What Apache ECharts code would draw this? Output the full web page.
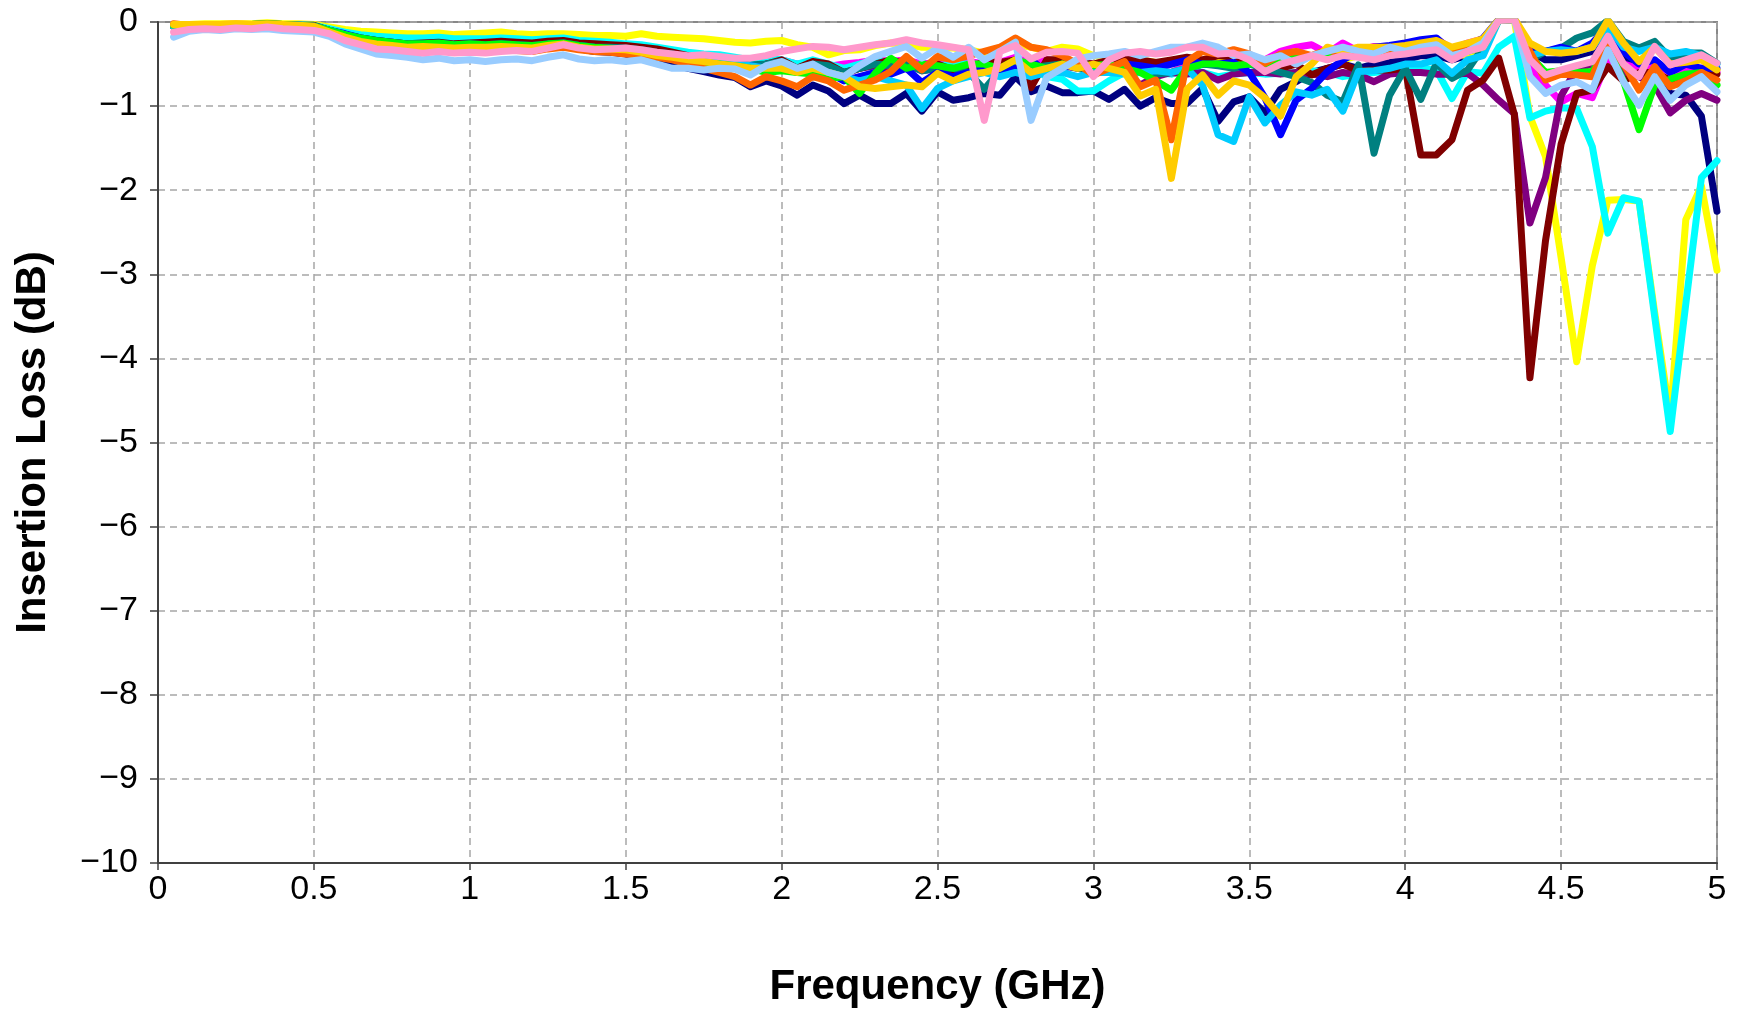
<!DOCTYPE html>
<html>
<head>
<meta charset="utf-8">
<title>Insertion Loss</title>
<script src="https://cdn.jsdelivr.net/npm/echarts@6/dist/echarts.min.js"></script>
<style>
  html, body { margin: 0; padding: 0; background: #fff; }
  #chart { width: 1745px; height: 1013px; }
</style>
</head>
<body>
<div id="chart"></div>
<script>
// frequency points (GHz)
var freq = [0.05,0.1,0.15,0.2,0.25,0.3,0.35,0.4,0.45,0.5,
  0.55,0.6,0.65,0.7,0.75,0.8,0.85,0.9,0.95,1.0,
  1.05,1.1,1.15,1.2,1.25,1.3,1.35,1.4,1.45,1.5,
  1.55,1.6,1.65,1.7,1.75,1.8,1.85,1.9,1.95,2.0,
  2.05,2.1,2.15,2.2,2.25,2.3,2.35,2.4,2.45,2.5,
  2.55,2.6,2.65,2.7,2.75,2.8,2.85,2.9,2.95,3.0,
  3.05,3.1,3.15,3.2,3.25,3.3,3.35,3.4,3.45,3.5,
  3.55,3.6,3.65,3.7,3.75,3.8,3.85,3.9,3.95,4.0,
  4.05,4.1,4.15,4.2,4.25,4.3,4.35,4.4,4.45,4.5,
  4.55,4.6,4.65,4.7,4.75,4.8,4.85,4.9,4.95,5.0];

// insertion loss (dB), one array per trace
var lossNavy = [-0.05,-0.05,-0.04,-0.04,-0.03,-0.04,-0.03,-0.04,-0.05,-0.06,
  -0.1,-0.15,-0.2,-0.23,-0.26,-0.27,-0.28,-0.27,-0.29,-0.28,
  -0.3,-0.29,-0.3,-0.32,-0.3,-0.28,-0.32,-0.35,-0.36,-0.38,
  -0.42,-0.47,-0.5,-0.55,-0.59,-0.63,-0.66,-0.77,-0.7,-0.76,
  -0.87,-0.75,-0.82,-0.97,-0.87,-0.97,-0.97,-0.85,-1.06,-0.83,
  -0.93,-0.9,-0.85,-0.87,-0.65,-0.83,-0.76,-0.84,-0.84,-0.82,
  -0.92,-0.8,-1.0,-0.9,-0.97,-0.97,-0.79,-1.18,-0.95,-0.89,
  -1.08,-0.8,-0.71,-0.6,-0.55,-0.5,-0.55,-0.5,-0.48,-0.45,
  -0.4,-0.4,-0.45,-0.4,-0.3,0.02,0.03,-0.35,-0.45,-0.45,
  -0.4,-0.35,-0.2,-0.45,-0.5,-0.6,-0.85,-0.87,-1.12,-2.25];

var lossMagenta = [-0.04,-0.04,-0.03,-0.03,-0.02,-0.03,-0.02,-0.03,-0.04,-0.05,
  -0.09,-0.14,-0.18,-0.21,-0.23,-0.25,-0.25,-0.24,-0.26,-0.25,
  -0.26,-0.25,-0.26,-0.27,-0.25,-0.24,-0.27,-0.28,-0.29,-0.3,
  -0.32,-0.35,-0.37,-0.4,-0.42,-0.44,-0.46,-0.5,-0.47,-0.45,
  -0.5,-0.48,-0.53,-0.5,-0.48,-0.45,-0.47,-0.45,-0.5,-0.48,
  -0.5,-0.47,-0.5,-0.48,-0.42,-0.5,-0.45,-0.47,-0.48,-0.5,
  -0.5,-0.48,-0.55,-0.58,-0.6,-0.5,-0.48,-0.45,-0.47,-0.45,
  -0.45,-0.35,-0.3,-0.27,-0.37,-0.25,-0.35,-0.29,-0.3,-0.28,
  -0.22,-0.2,-0.32,-0.25,-0.2,0.02,0.03,-0.55,-0.75,-0.95,
  -0.85,-0.9,-0.45,-0.5,-0.55,-0.5,-0.6,-0.55,-0.55,-0.6];

var lossYellow = [-0.03,-0.03,-0.02,-0.02,-0.02,-0.02,-0.01,-0.02,-0.02,-0.03,
  -0.06,-0.09,-0.11,-0.12,-0.13,-0.14,-0.14,-0.13,-0.15,-0.14,
  -0.13,-0.12,-0.14,-0.15,-0.14,-0.14,-0.15,-0.16,-0.16,-0.17,
  -0.14,-0.17,-0.18,-0.19,-0.2,-0.22,-0.24,-0.25,-0.23,-0.22,
  -0.27,-0.3,-0.39,-0.34,-0.33,-0.28,-0.25,-0.26,-0.3,-0.3,
  -0.31,-0.33,-0.37,-0.33,-0.26,-0.3,-0.35,-0.3,-0.32,-0.4,
  -0.42,-0.4,-0.45,-0.48,-0.5,-0.45,-0.5,-0.42,-0.48,-0.5,
  -0.45,-0.4,-0.35,-0.42,-0.35,-0.45,-0.4,-0.35,-0.38,-0.33,
  -0.33,-0.3,-0.38,-0.4,-0.3,0.02,0.03,-1.12,-1.6,-2.8,
  -4.04,-2.9,-2.12,-2.11,-2.13,-3.45,-4.7,-2.35,-1.95,-2.95];

var lossCyan = [-0.05,-0.04,-0.03,-0.04,-0.03,-0.03,-0.02,-0.03,-0.03,-0.04,
  -0.08,-0.12,-0.15,-0.17,-0.18,-0.19,-0.19,-0.18,-0.2,-0.2,
  -0.2,-0.19,-0.2,-0.21,-0.2,-0.19,-0.22,-0.23,-0.24,-0.26,
  -0.27,-0.3,-0.33,-0.36,-0.38,-0.39,-0.42,-0.45,-0.43,-0.45,
  -0.5,-0.45,-0.5,-0.55,-0.5,-0.45,-0.5,-0.48,-0.55,-0.52,
  -0.5,-0.5,-0.55,-0.6,-0.5,-0.55,-0.65,-0.68,-0.82,-0.82,
  -0.7,-0.6,-0.55,-0.6,-0.62,-0.55,-0.6,-0.65,-0.62,-0.6,
  -0.62,-0.61,-0.6,-0.58,-0.6,-0.65,-0.62,-0.6,-0.58,-0.55,
  -0.55,-0.57,-0.91,-0.59,-0.61,-0.3,-0.17,-1.14,-1.06,-1.02,
  -1.03,-1.48,-2.51,-2.09,-2.13,-3.5,-4.87,-3.35,-1.85,-1.65];

var lossPurple = [-0.05,-0.04,-0.04,-0.04,-0.03,-0.04,-0.03,-0.04,-0.05,-0.05,
  -0.1,-0.15,-0.2,-0.23,-0.25,-0.27,-0.27,-0.26,-0.28,-0.27,
  -0.28,-0.27,-0.28,-0.3,-0.28,-0.26,-0.29,-0.31,-0.32,-0.33,
  -0.35,-0.38,-0.4,-0.43,-0.46,-0.48,-0.5,-0.55,-0.5,-0.5,
  -0.55,-0.52,-0.58,-0.62,-0.55,-0.52,-0.55,-0.5,-0.58,-0.55,
  -0.58,-0.55,-0.6,-0.58,-0.5,-0.55,-0.55,-0.52,-0.55,-0.58,
  -0.6,-0.58,-0.75,-0.65,-0.6,-0.62,-0.6,-0.69,-0.62,-0.6,
  -0.6,-0.62,-0.6,-0.62,-0.65,-0.6,-0.63,-0.71,-0.62,-0.6,
  -0.6,-0.62,-0.62,-0.61,-0.75,-0.93,-1.09,-2.39,-1.85,-0.88,
  -0.55,-0.5,-0.35,-0.6,-0.65,-0.75,-1.08,-0.93,-0.85,-0.93];

var lossMaroon = [-0.04,-0.04,-0.03,-0.03,-0.03,-0.03,-0.02,-0.03,-0.04,-0.04,
  -0.1,-0.15,-0.19,-0.22,-0.24,-0.26,-0.25,-0.24,-0.26,-0.25,
  -0.24,-0.23,-0.24,-0.25,-0.23,-0.22,-0.25,-0.26,-0.27,-0.28,
  -0.3,-0.32,-0.36,-0.4,-0.42,-0.45,-0.5,-0.55,-0.5,-0.45,
  -0.55,-0.47,-0.5,-0.6,-0.55,-0.5,-0.45,-0.5,-0.55,-0.5,
  -0.57,-0.55,-0.47,-0.48,-0.45,-0.78,-0.45,-0.45,-0.48,-0.5,
  -0.45,-0.42,-0.45,-0.48,-0.45,-0.42,-0.45,-0.4,-0.42,-0.45,
  -0.5,-0.55,-0.5,-0.63,-0.55,-0.5,-0.58,-0.57,-0.57,-0.55,
  -1.58,-1.58,-1.4,-0.81,-0.69,-0.43,-1.1,-4.23,-2.6,-1.45,
  -0.85,-0.81,-0.53,-0.7,-0.6,-0.6,-0.69,-0.65,-0.6,-0.62];

var lossTeal = [-0.05,-0.04,-0.04,-0.04,-0.03,-0.04,-0.03,-0.04,-0.05,-0.05,
  -0.1,-0.15,-0.2,-0.23,-0.25,-0.27,-0.27,-0.26,-0.28,-0.27,
  -0.28,-0.27,-0.28,-0.29,-0.27,-0.25,-0.28,-0.3,-0.3,-0.31,
  -0.33,-0.36,-0.38,-0.42,-0.45,-0.45,-0.48,-0.51,-0.5,-0.47,
  -0.55,-0.5,-0.52,-0.6,-0.55,-0.5,-0.52,-0.5,-0.58,-0.55,
  -0.55,-0.6,-0.8,-0.58,-0.5,-0.55,-0.52,-0.5,-0.55,-0.58,
  -0.58,-0.55,-0.6,-0.62,-0.6,-0.55,-0.5,-0.52,-0.55,-0.5,
  -0.55,-0.6,-0.65,-0.72,-0.87,-0.95,-0.51,-1.56,-0.87,-0.55,
  -0.92,-0.49,-0.67,-0.57,-0.3,0.03,0.04,-0.45,-0.35,-0.31,
  -0.19,-0.13,0.02,-0.23,-0.31,-0.23,-0.43,-0.37,-0.37,-0.49];

var lossBlue = [-0.04,-0.04,-0.04,-0.03,-0.03,-0.03,-0.03,-0.04,-0.04,-0.05,
  -0.1,-0.14,-0.19,-0.22,-0.24,-0.26,-0.26,-0.25,-0.27,-0.26,
  -0.27,-0.26,-0.27,-0.28,-0.26,-0.25,-0.28,-0.3,-0.31,-0.32,
  -0.35,-0.38,-0.4,-0.43,-0.45,-0.48,-0.5,-0.52,-0.55,-0.5,
  -0.6,-0.55,-0.6,-0.7,-0.65,-0.6,-0.62,-0.55,-0.72,-0.6,
  -0.65,-0.6,-0.55,-0.6,-0.55,-0.45,-0.6,-0.55,-0.5,-0.55,
  -0.55,-0.5,-0.52,-0.55,-0.5,-0.45,-0.5,-0.5,-0.48,-0.6,
  -0.9,-1.34,-0.93,-0.79,-0.59,-0.45,-0.35,-0.3,-0.28,-0.25,
  -0.21,-0.19,-0.35,-0.29,-0.19,0.03,0.04,-0.3,-0.35,-0.3,
  -0.35,-0.25,-0.05,-0.35,-0.5,-0.45,-0.6,-0.5,-0.55,-0.55];

var lossSkyBlue = [-0.05,-0.04,-0.04,-0.04,-0.03,-0.04,-0.03,-0.04,-0.05,-0.05,
  -0.1,-0.15,-0.2,-0.24,-0.26,-0.28,-0.28,-0.27,-0.29,-0.28,
  -0.29,-0.28,-0.29,-0.3,-0.28,-0.26,-0.29,-0.31,-0.32,-0.33,
  -0.35,-0.38,-0.4,-0.42,-0.45,-0.48,-0.5,-0.52,-0.55,-0.55,
  -0.6,-0.58,-0.6,-0.65,-0.7,-0.65,-0.7,-0.75,-1.03,-0.79,
  -0.7,-0.65,-0.6,-0.65,-0.6,-0.65,-0.6,-0.6,-0.65,-0.6,
  -0.6,-0.62,-0.6,-0.58,-0.6,-0.55,-0.75,-1.34,-1.42,-0.89,
  -1.2,-0.99,-0.83,-0.87,-0.8,-1.06,-0.59,-0.58,-0.55,-0.5,
  -0.5,-0.45,-0.61,-0.45,-0.4,0.02,0.03,-0.4,-0.35,-0.33,
  -0.35,-0.3,-0.05,-0.3,-0.35,-0.3,-0.38,-0.35,-0.4,-0.5];

var lossGreen = [-0.04,-0.04,-0.03,-0.03,-0.03,-0.03,-0.02,-0.03,-0.04,-0.05,
  -0.1,-0.15,-0.19,-0.22,-0.24,-0.26,-0.26,-0.25,-0.27,-0.26,
  -0.27,-0.26,-0.27,-0.28,-0.26,-0.25,-0.28,-0.3,-0.31,-0.32,
  -0.35,-0.38,-0.42,-0.45,-0.48,-0.5,-0.52,-0.55,-0.6,-0.58,
  -0.6,-0.62,-0.67,-0.65,-0.85,-0.61,-0.43,-0.55,-0.5,-0.52,
  -0.55,-0.5,-0.5,-0.55,-0.45,-0.5,-0.55,-0.5,-0.5,-0.52,
  -0.5,-0.55,-0.6,-0.7,-0.81,-0.55,-0.5,-0.5,-0.52,-0.5,
  -0.5,-0.45,-0.42,-0.4,-0.38,-0.4,-0.35,-0.33,-0.35,-0.3,
  -0.3,-0.28,-0.4,-0.35,-0.3,0.02,0.03,-0.4,-0.6,-0.58,
  -0.6,-0.59,-0.3,-0.7,-1.28,-0.75,-0.68,-0.62,-0.6,-0.75];

var lossOrange = [-0.02,-0.04,-0.04,-0.05,-0.04,-0.05,-0.04,-0.05,-0.06,-0.07,
  -0.14,-0.2,-0.26,-0.3,-0.32,-0.34,-0.36,-0.34,-0.35,-0.33,
  -0.34,-0.33,-0.34,-0.35,-0.32,-0.3,-0.33,-0.35,-0.36,-0.38,
  -0.4,-0.42,-0.45,-0.5,-0.55,-0.6,-0.65,-0.75,-0.65,-0.7,
  -0.77,-0.65,-0.7,-0.81,-0.75,-0.69,-0.59,-0.41,-0.57,-0.41,
  -0.45,-0.4,-0.35,-0.3,-0.19,-0.3,-0.33,-0.4,-0.5,-0.63,
  -0.55,-0.47,-0.77,-0.69,-1.4,-0.47,-0.35,-0.38,-0.33,-0.38,
  -0.49,-0.38,-0.35,-0.4,-0.33,-0.38,-0.32,-0.35,-0.35,-0.3,
  -0.3,-0.27,-0.38,-0.3,-0.25,0.02,0.03,-0.35,-0.69,-0.62,
  -0.63,-0.65,-0.21,-0.5,-0.81,-0.53,-0.77,-0.7,-0.6,-0.69];

var lossGold = [-0.03,-0.03,-0.03,-0.03,-0.02,-0.03,-0.02,-0.03,-0.04,-0.05,
  -0.12,-0.18,-0.23,-0.26,-0.28,-0.3,-0.29,-0.3,-0.31,-0.3,
  -0.3,-0.29,-0.3,-0.31,-0.28,-0.26,-0.3,-0.32,-0.32,-0.33,
  -0.36,-0.4,-0.42,-0.45,-0.47,-0.5,-0.52,-0.55,-0.55,-0.55,
  -0.6,-0.55,-0.6,-0.65,-0.77,-0.79,-0.77,-0.75,-0.77,-0.61,
  -0.7,-0.62,-0.6,-0.55,-0.45,-0.6,-0.55,-0.5,-0.55,-0.5,
  -0.55,-0.6,-0.88,-0.8,-1.86,-0.8,-0.63,-0.87,-0.7,-0.75,
  -0.9,-1.12,-0.65,-0.5,-0.3,-0.35,-0.3,-0.3,-0.3,-0.28,
  -0.25,-0.22,-0.3,-0.25,-0.2,0.03,0.04,-0.25,-0.35,-0.37,
  -0.35,-0.3,0.02,-0.25,-0.47,-0.3,-0.5,-0.48,-0.45,-0.57];

var lossLightBlue = [-0.18,-0.11,-0.09,-0.1,-0.08,-0.09,-0.08,-0.1,-0.11,-0.12,
  -0.17,-0.26,-0.32,-0.38,-0.4,-0.42,-0.45,-0.43,-0.46,-0.45,
  -0.47,-0.45,-0.44,-0.46,-0.42,-0.39,-0.44,-0.46,-0.45,-0.47,
  -0.45,-0.5,-0.55,-0.55,-0.57,-0.55,-0.56,-0.63,-0.52,-0.47,
  -0.55,-0.5,-0.6,-0.65,-0.52,-0.41,-0.35,-0.29,-0.43,-0.31,
  -0.42,-0.3,-0.45,-0.35,-0.24,-1.17,-0.66,-0.55,-0.44,-0.4,
  -0.38,-0.35,-0.4,-0.35,-0.3,-0.3,-0.25,-0.3,-0.4,-0.38,
  -0.45,-0.4,-0.5,-0.4,-0.35,-0.3,-0.35,-0.38,-0.3,-0.35,
  -0.3,-0.27,-0.4,-0.35,-0.25,0.02,0.03,-0.65,-0.85,-0.75,
  -0.71,-0.81,-0.33,-0.71,-0.99,-0.65,-0.93,-0.75,-0.65,-0.83];

var lossPink = [-0.12,-0.09,-0.08,-0.09,-0.07,-0.08,-0.06,-0.08,-0.09,-0.1,
  -0.14,-0.22,-0.27,-0.32,-0.33,-0.35,-0.37,-0.35,-0.37,-0.36,
  -0.37,-0.35,-0.34,-0.35,-0.31,-0.27,-0.31,-0.33,-0.32,-0.31,
  -0.33,-0.36,-0.38,-0.4,-0.39,-0.41,-0.43,-0.43,-0.4,-0.35,
  -0.32,-0.29,-0.3,-0.33,-0.3,-0.27,-0.25,-0.21,-0.25,-0.27,
  -0.3,-0.33,-1.17,-0.35,-0.28,-0.44,-0.36,-0.35,-0.37,-0.65,
  -0.45,-0.37,-0.35,-0.38,-0.36,-0.3,-0.3,-0.38,-0.37,-0.45,
  -0.59,-0.5,-0.45,-0.4,-0.45,-0.4,-0.42,-0.45,-0.4,-0.38,
  -0.35,-0.33,-0.45,-0.35,-0.3,0.02,0.03,-0.45,-0.63,-0.57,
  -0.52,-0.47,-0.17,-0.5,-0.65,-0.29,-0.51,-0.45,-0.39,-0.49];

// drawing order: later traces end up on top
var traces = [
  {data: lossNavy, color: '#000080'},
  {data: lossMagenta, color: '#FF00FF'},
  {data: lossYellow, color: '#FFFF00'},
  {data: lossCyan, color: '#00FFFF'},
  {data: lossPurple, color: '#800080'},
  {data: lossMaroon, color: '#800000'},
  {data: lossTeal, color: '#008080'},
  {data: lossBlue, color: '#0000FF'},
  {data: lossSkyBlue, color: '#00CCFF'},
  {data: lossGreen, color: '#00FF00'},
  {data: lossOrange, color: '#FF6600'},
  {data: lossGold, color: '#FFCC00'},
  {data: lossLightBlue, color: '#99CCFF'},
  {data: lossPink, color: '#FF99CC'}
];

var fontFamily = '"Liberation Sans", Arial, sans-serif';
var axisColor = '#404040';
var gridLine = {show: true, lineStyle: {color: '#a6a6a6', width: 1.5, type: [7, 5]}};

var series = traces.map(function (t) {
  return {
    type: 'line',
    symbol: 'none',
    clip: true,
    animation: false,
    lineStyle: {width: 7, color: t.color, join: 'round', cap: 'round'},
    data: freq.map(function (f, i) { return [f, t.data[i]]; })
  };
});

var chart = echarts.init(document.getElementById('chart'), null, {renderer: 'canvas'});
var option = {
  backgroundColor: '#ffffff',
  animation: false,
  grid: {
    left: 158, right: 28, top: 22, bottom: 149,
    show: true, borderColor: '#888888', borderWidth: 2, backgroundColor: 'transparent'
  },
  xAxis: {
    type: 'value',
    min: 0, max: 5, interval: 0.5,
    name: 'Frequency (GHz)',
    nameLocation: 'middle',
    nameGap: 103,
    nameTextStyle: {fontFamily: fontFamily, fontSize: 42, fontWeight: 'bold', color: '#000'},
    axisLine: {show: true, onZero: false, lineStyle: {color: axisColor, width: 2}},
    axisTick: {show: true, length: 7, lineStyle: {color: axisColor, width: 1.5}},
    axisLabel: {fontFamily: fontFamily, fontSize: 34, color: '#000', margin: 10},
    splitLine: gridLine
  },
  yAxis: {
    type: 'value',
    min: -10, max: 0, interval: 1,
    name: 'Insertion Loss (dB)',
    nameLocation: 'middle',
    nameGap: 104,
    nameTextStyle: {fontFamily: fontFamily, fontSize: 42, fontWeight: 'bold', color: '#000'},
    axisLine: {show: true, onZero: false, lineStyle: {color: axisColor, width: 2}},
    axisTick: {show: true, length: 8, lineStyle: {color: axisColor, width: 1.5}},
    axisLabel: {
      fontFamily: fontFamily, fontSize: 34, color: '#000', margin: 20,
      formatter: function (v) { return String(v).replace('-', '\u2212'); }
    },
    splitLine: gridLine
  },
  series: series
};

option && chart.setOption(option);
</script>
</body>
</html>
